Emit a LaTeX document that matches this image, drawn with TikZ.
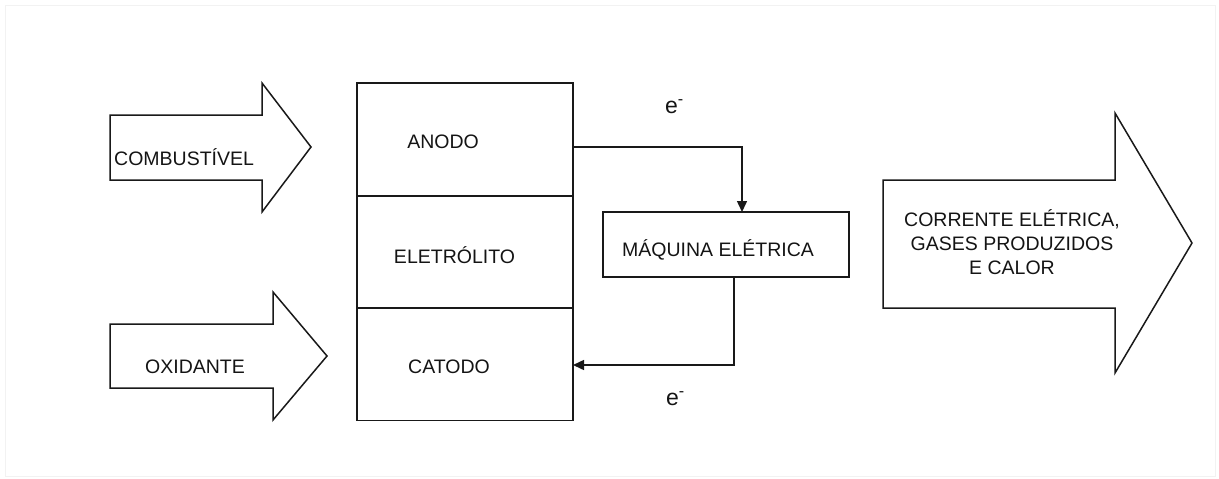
\documentclass[tikz,border=0pt]{standalone}
\usepackage{fontspec}
\setmainfont{Liberation Sans}
\usetikzlibrary{arrows.meta}
\begin{document}
\begin{tikzpicture}[x=1pt,y=-1pt,
  outline/.style={draw=black!90,line width=1.5pt,line join=miter},
  cell/.style={draw=black!90,line width=1.7pt,minimum width=216pt,minimum height=113pt,inner sep=0pt},
  lbl/.style={font=\fontsize{19.5}{24}\selectfont,text=black!92,inner sep=0pt},
  elbl/.style={font=\fontsize{23}{26}\selectfont,text=black!92,inner sep=0pt},
  wire/.style={draw=black!90,line width=1.5pt,-{Triangle[length=11pt,width=10pt]}}]
\useasboundingbox (0,0) rectangle (1219,479);
\draw[black!5,line width=1pt] (5,5) rectangle (1215,476);
% input arrows
\draw[outline] (110,115) -- (262,115) -- (262,83) -- (311,147) -- (262,212) -- (262,180) -- (110,180) -- cycle;
\draw[outline] (110,324) -- (273,324) -- (273,292) -- (327,356) -- (273,420) -- (273,388) -- (110,388) -- cycle;
% output arrow
\draw[outline] (883,180) -- (1115,180) -- (1115,113) -- (1192,243) -- (1115,373) -- (1115,308) -- (883,308) -- cycle;
% cell stack
\node[cell] (anode) at (465,139.5) {};
\node[cell] (elec) at (465,252) {};
\node[cell] (cath) at (465,364) {};
% machine
\node[draw=black!90,line width=1.5pt,minimum width=246pt,minimum height=65pt,inner sep=0pt] (mach) at (726,244.5) {};
% labels
\node[lbl,anchor=west] (comb) at (114,157.5) {COMBUSTÍVEL};
\node[lbl,anchor=west] (oxi) at (145,366.5) {OXIDANTE};
\node[lbl] (tanode) at (443,142) {ANODO};
\node[lbl] (telec) at (454.5,255) {ELETRÓLITO};
\node[lbl] (tcath) at (449,366.5) {CATODO};
\node[lbl] (tmach) at (718,250) {MÁQUINA ELÉTRICA};
\node[lbl,align=center] (tout) at (1012,242) {CORRENTE ELÉTRICA,\\GASES PRODUZIDOS\\E CALOR};
\node[elbl,anchor=west] (e1) at (665,107) {e\textsuperscript{-}};
\node[elbl,anchor=west] (e2) at (666,399) {e\textsuperscript{-}};
% connectors
\coordinate (a1) at (573,147);
\coordinate (m1) at (742,212);
\coordinate (m2) at (734,277);
\coordinate (c1) at (573,365);
\draw[wire] (anode.east |- a1) -| (m1);
\draw[wire] (m2) |- (c1);
\end{tikzpicture}
\end{document}
